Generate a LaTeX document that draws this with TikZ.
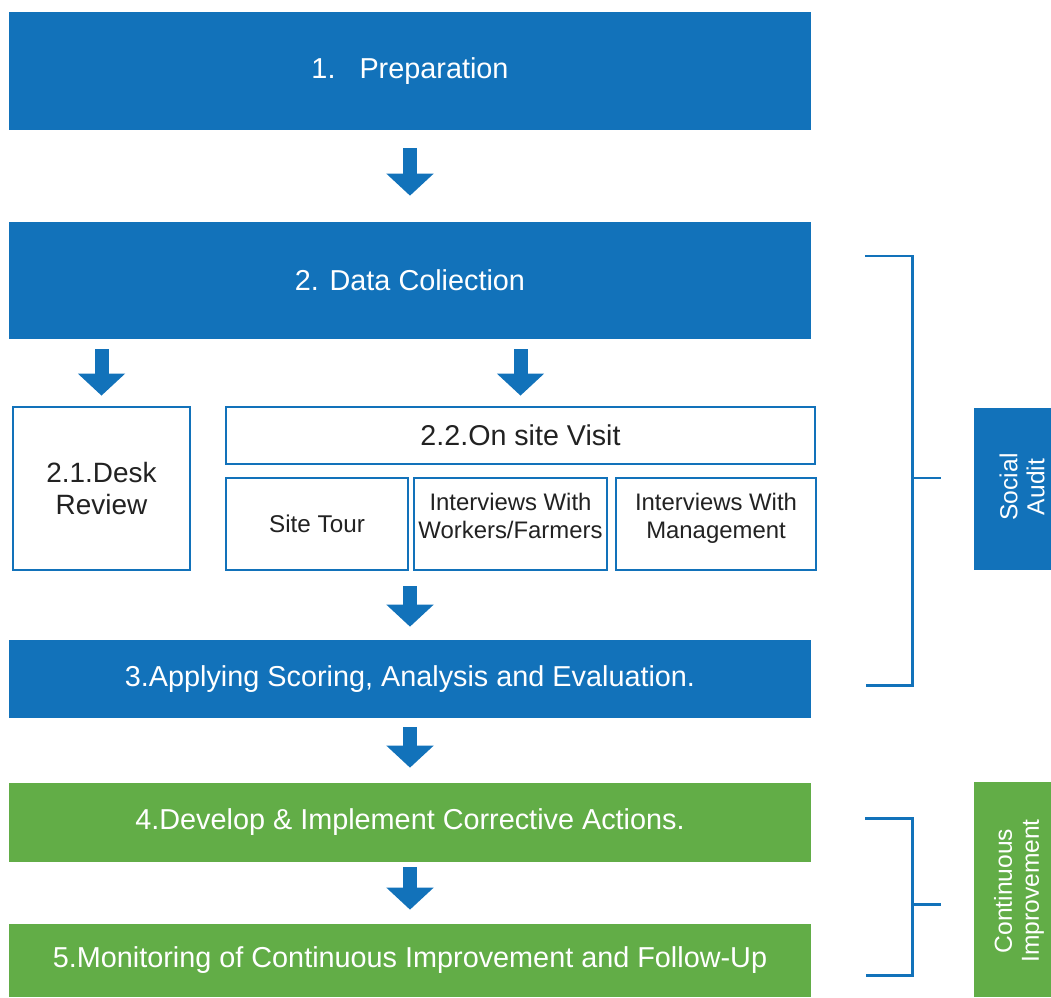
\documentclass[tikz,border=0pt]{standalone}
\usepackage{fontspec}
\setmainfont{Liberation Sans}
\usepackage{tikz}
\usetikzlibrary{arrows.meta,positioning}
\definecolor{stepblue}{HTML}{1272BA}
\definecolor{stepgreen}{HTML}{62AD47}
\definecolor{txtdark}{HTML}{222222}
\tikzset{
  sbox/.style={draw=none,fill=stepblue,text=white,inner sep=0pt,minimum width=16.04cm,font=\fontsize{16.4}{19}\selectfont},
  gbox/.style={sbox,fill=stepgreen},
  wbox/.style={draw=stepblue,line width=1.6pt,fill=white,inner sep=0pt,text=txtdark,align=center,font=\fontsize{14}{16}\selectfont},
  wtext/.style={text=txtdark,align=center,inner sep=0pt,font=\fontsize{13.6}{16}\selectfont},
  bigarr/.style={-{Triangle[width=0.92cm,length=0.44cm]},line width=0.28cm,draw=stepblue},
  brk/.style={line width=1.7pt,draw=stepblue},
  side/.style={text=white,rotate=90,minimum width=3.24cm,align=center,inner sep=0pt,font=\fontsize{14}{15.4}\selectfont}
}
\begin{document}
\begin{tikzpicture}[x=0.02cm,y=-0.02cm]
  \useasboundingbox (0,0) rectangle (1051,997);
  % steps of the audit
  \node[sbox,minimum height=2.36cm] (prep) at (410,71) {1.\ \ \ Preparation};
  \node[sbox,minimum height=2.34cm] (data) at (410,280.5) {2. Data Coliection};
  \node[wbox,minimum width=3.54cm,minimum height=3.26cm,font=\fontsize{15.9}{18.2}\selectfont] (desk) at (101.5,488.5) {2.1.Desk\\Review};
  \node[wbox,minimum width=11.78cm,minimum height=1.14cm,font=\fontsize{16.3}{19}\selectfont] (visit) at (520.5,435.5) {2.2.On site Visit};
  \node[wbox,minimum width=3.64cm,minimum height=1.84cm,font=\fontsize{13.8}{16}\selectfont] (tour) at (317,524) {Site Tour};
  \node[wbox,minimum width=3.86cm,minimum height=1.84cm] (wf) at (510.5,524) {};
  \node[wbox,minimum width=4.0cm,minimum height=1.84cm] (mgmt) at (716,524) {};
  \node[wtext,below=9pt of wf.north] (wftext) {Interviews With\\Workers/Farmers};
  \node[wtext,below=9pt of mgmt.north] (mgmttext) {Interviews With\\Management};
  \node[sbox,minimum height=1.56cm] (score) at (410,679) {3.Applying Scoring, Analysis and Evaluation.};
  \node[gbox,minimum height=1.58cm] (act) at (410,822.5) {4.Develop \& Implement Corrective Actions.};
  \node[gbox,minimum height=1.46cm] (mon) at (410,960.5) {5.Monitoring of Continuous Improvement and Follow-Up};
  % block arrows
  \draw[bigarr,shorten <=0.36cm,shorten >=0.52cm] (prep.south) -- (data.north);
  \draw[bigarr,shorten <=0.2cm,shorten >=0.2cm] (data.south -| desk.north) -- (desk.north);
  \draw[bigarr,shorten <=0.2cm,shorten >=0.2cm] (data.south -| visit.north) -- (visit.north);
  \draw[bigarr,shorten <=0.3cm,shorten >=0.26cm] (score.north |- tour.south) -- (score.north);
  \draw[bigarr,shorten <=0.18cm,shorten >=0.3cm] (score.south) -- (act.north);
  \draw[bigarr,shorten <=0.1cm,shorten >=0.28cm] (act.south) -- (mon.north);
  % brackets and side labels
  \coordinate (satick) at (941,478);
  \coordinate (citick) at (941,904);
  \draw[brk] (865,256) -| (912,685) -- (866,685);
  \draw[brk] (912,478) -- (satick);
  \draw[brk] (865,818) -| (912,975) -- (866,975);
  \draw[brk] (912,904) -- (citick);
  \fill[stepblue] (974,408) rectangle (1051,570);
  \fill[stepgreen] (974,782) rectangle (1051,997);
  \node[side] (audit) at (1022,487) {Social\\Audit};
  \node[side] (cont) at (1019,891) {Continuous\\Improvement};
\end{tikzpicture}
\end{document}
